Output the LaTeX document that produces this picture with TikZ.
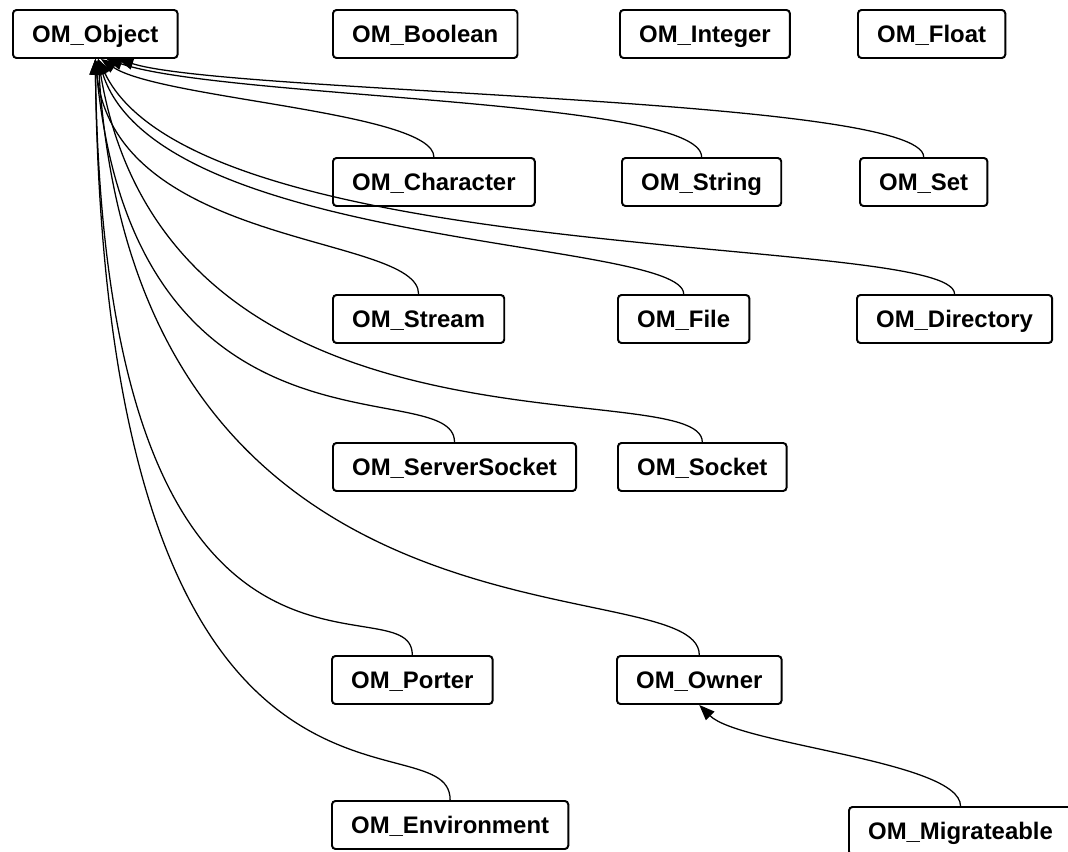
\documentclass[tikz,border=0pt]{standalone}
\usepackage{fontspec}
\setmainfont{Liberation Sans}
\usetikzlibrary{arrows.meta}
\tikzset{
  cls/.style={draw, line width=1.4pt, rounded corners=2.5pt, anchor=west, inner xsep=0.48cm, inner ysep=0pt, minimum height=1.2cm, text height=0.43cm, text depth=0pt, font=\fontsize{17}{20}\selectfont\bfseries},
  arr/.style={-{Triangle[length=11pt,width=8.5pt]}, line width=0.9pt},
}
\begin{document}
\begin{tikzpicture}[x=0.025cm, y=-0.025cm]
  \useasboundingbox (0,0) rectangle (1068,852);
  % classes
  \node[cls] (obj) at (12,34) {OM\_Object};
  \node[cls] (bool) at (332,34) {OM\_Boolean};
  \node[cls] (int) at (619,34) {OM\_Integer};
  \node[cls] (flt) at (857,34) {OM\_Float};
  \node[cls] (chr) at (332,182) {OM\_Character};
  \node[cls] (str) at (621,182) {OM\_String};
  \node[cls] (set) at (859,182) {OM\_Set};
  \node[cls] (strm) at (332,319) {OM\_Stream};
  \node[cls] (file) at (617,319) {OM\_File};
  \node[cls] (dir) at (856,319) {OM\_Directory};
  \node[cls] (ssock) at (332,467) {OM\_ServerSocket};
  \node[cls] (sock) at (617,467) {OM\_Socket};
  \node[cls] (port) at (331,680) {OM\_Porter};
  \node[cls] (own) at (616,680) {OM\_Owner};
  \node[cls] (env) at (331,825) {OM\_Environment};
  \node[cls] (migr) at (848,831) {OM\_Migrateable};
  % inheritance edges
  \foreach \c/\dx/\ax/\ay/\bx/\by in {chr/4/0/-45/60/40, str/8/0/-58/120/40, set/16/0/-60/110/35,
      strm/0/0/-60/20/190, file/2/0/-55/60/190, dir/2/0/-60/100/210,
      ssock/0/0/-70/40/420, sock/2/0/-70/70/420, port/0/0/-80/10/700,
      own/2/0/-90/40/620, env/0/0/-90/10/830}
    \draw[arr] (\c.north) .. controls +(\ax,\ay) and +(\bx,\by) .. ([xshift=\dx pt]obj.south);
  \draw[arr] (migr.north) .. controls +(0,-45) and +(40,40) .. (own.south);
\end{tikzpicture}
\end{document}
